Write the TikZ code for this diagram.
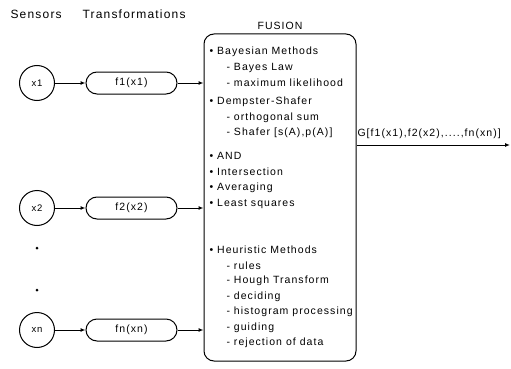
\documentclass[tikz,border=0pt]{standalone}
\usepackage{fontspec}
\setmainfont{Liberation Sans}[LetterSpace=10]
\usetikzlibrary{arrows.meta}
\tikzset{
	sensor/.style={circle, draw, minimum size=35pt, inner sep=0pt, font=\fontsize{9.5}{10}\selectfont},
	transf/.style={draw, rounded corners=11pt, minimum width=91pt, minimum height=22pt, inner sep=0pt},
	sdot/.style={circle, fill, minimum size=3pt, inner sep=0pt},
	item/.style={anchor=west, inner sep=0pt},
	arr/.style={-{Latex[length=5pt, width=4pt]}}
}
\begin{document}
\begin{tikzpicture}[x=1pt, y=-1pt, line width=1pt, font=\fontsize{10.5}{12}\selectfont]
	\useasboundingbox (0,0) rectangle (511,369);
	\node[anchor=west, inner sep=0pt, font=\fontsize{12}{14}\selectfont] (hsens) at (10,14) {Sensors};
	\node[anchor=west, inner sep=0pt, font=\fontsize{12}{14}\selectfont] (htrans) at (82,14) {Transformations};
	\node[inner sep=0pt] (hfus) at (280,26) {FUSION};
	\node[draw, rounded corners=10pt, minimum width=152pt, minimum height=327pt, inner sep=0pt] (fusion) at (280,197.5) {};
	% sensors and their transformations
	\foreach \n/\y/\f in {1/83/f1(x1), 2/208/f2(x2), n/330/fn(xn)}{
		\node[sensor] (x\n) at (37,\y) {x\n};
		\node[transf] (f\n) at (131.5,\y) {\f};
		\draw[arr] (x\n) -- (f\n);
		\draw[arr] (f\n.east) -- (f\n.east -| fusion.west);
	}
	\node[sdot] (d1) at (37,248) {};
	\node[sdot] (d2) at (37,290) {};
	% fusion methods
	\foreach \y/\t in {52/Bayesian Methods, 102/Dempster-Shafer, 156/AND, 172/Intersection, 188/Averaging, 204/Least squares, 250/Heuristic Methods}
		\node[item] (m\y) at (209,\y) {• \t};
	\foreach \y/\t in {67.5/Bayes Law, 83/maximum likelihood, 117.5/orthogonal sum, 133/{Shafer [s(A),p(A)]}, 265.5/rules, 281/Hough Transform, 296.5/deciding, 312/histogram processing, 327.5/guiding, 343/rejection of data}
		\node[item] (s\y) at (226,\y) {- \t};
	% output
	\coordinate (out) at (510,145);
	\draw[arr] (fusion.east |- out) -- (out);
	\node[anchor=west, inner sep=0pt] (g) at (357,134) {G[f1(x1),f2(x2),....,fn(xn)]};
\end{tikzpicture}
\end{document}
